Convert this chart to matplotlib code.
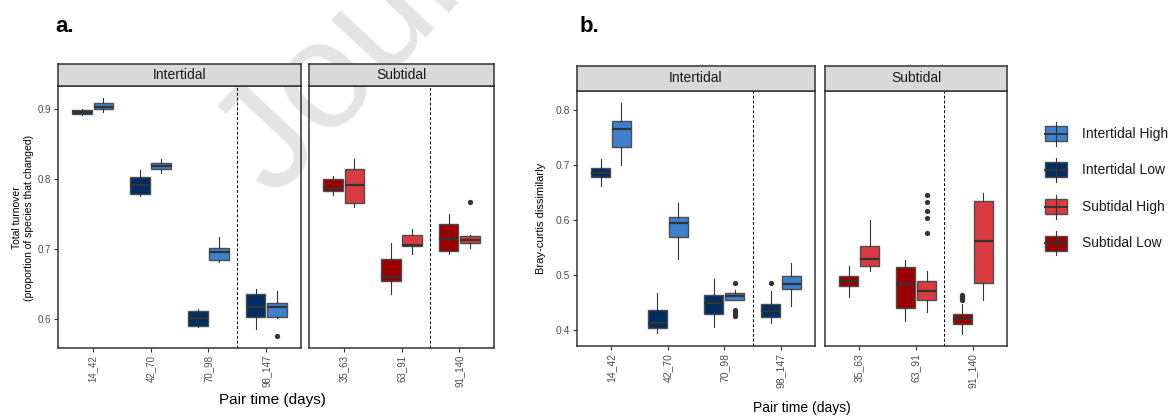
import numpy as np
import matplotlib
matplotlib.use('Agg')
import matplotlib.pyplot as plt
from matplotlib.patches import Rectangle

plt.rcParams['font.family'] = ['Liberation Sans', 'DejaVu Sans']

W, H = 1173, 417  # figure size in pixels

inter_pairs = ['14_42', '42_70', '70_98', '98_147']
sub_pairs = ['35_63', '63_91', '91_140']

groups = ['Intertidal High', 'Intertidal Low', 'Subtidal High', 'Subtidal Low']
colours = ['#3F7FCB', '#002D62', '#D93B43', '#9A0000']

# box stats per pair: (whislo, q1, median, q3, whishi)
# a. total turnover
a_int_low = [(0.892, 0.894, 0.8966, 0.899, 0.9005), (0.7761, 0.7786, 0.7919, 0.8029, 0.8133),
             (0.5895, 0.5909, 0.6023, 0.6119, 0.6147), (0.5857, 0.6033, 0.618, 0.6357, 0.6437)]
a_int_low_out = [[], [], [], []]
a_int_high = [(0.8966, 0.9009, 0.9037, 0.9086, 0.9157), (0.8095, 0.8143, 0.819, 0.8229, 0.8295),
              (0.6814, 0.6847, 0.6957, 0.7019, 0.718), (0.6013, 0.6037, 0.618, 0.6229, 0.6409)]
a_int_high_out = [[], [], [], [0.5757]]
a_sub_low = [(0.7771, 0.7833, 0.7871, 0.8004, 0.8047), (0.6357, 0.6551, 0.6609, 0.6866, 0.709),
             (0.6933, 0.698, 0.7151, 0.7366, 0.75)]
a_sub_low_out = [[], [], []]
a_sub_high = [(0.76, 0.7666, 0.7919, 0.8147, 0.8286), (0.6929, 0.7047, 0.7057, 0.72, 0.7295),
              (0.7023, 0.7086, 0.7133, 0.719, 0.7204)]
a_sub_high_out = [[], [], [0.768]]

# b. bray-curtis
b_int_low = [(0.662, 0.6772, 0.6845, 0.6942, 0.7106), (0.3939, 0.4036, 0.4122, 0.4365, 0.4657),
             (0.4049, 0.4292, 0.4492, 0.4638, 0.4918), (0.4122, 0.4231, 0.434, 0.4468, 0.4699)]
b_int_low_out = [[], [], [], [0.4857]]
b_int_high = [(0.6991, 0.7331, 0.7653, 0.7793, 0.8134), (0.5289, 0.569, 0.5939, 0.6055, 0.631),
              (0.4535, 0.4547, 0.462, 0.4663, 0.4717), (0.4426, 0.473, 0.4827, 0.4973, 0.5204)]
b_int_high_out = [[], [], [0.4857, 0.4353, 0.4322, 0.428, 0.4243], []]
b_sub_low = [(0.4584, 0.479, 0.4881, 0.4973, 0.5161), (0.4158, 0.4389, 0.4821, 0.5137, 0.5271),
             (0.3915, 0.411, 0.42, 0.428, 0.447)]
b_sub_low_out = [[], [], [0.4535, 0.456, 0.4584, 0.4608, 0.4638]]
b_sub_high = [(0.5058, 0.5155, 0.5283, 0.5514, 0.5988), (0.4316, 0.4547, 0.4705, 0.4888, 0.5064),
              (0.4547, 0.4851, 0.5617, 0.6334, 0.648)]
b_sub_high_out = [[], [0.5751, 0.6036, 0.6164, 0.6328, 0.645], []]

a_yticks = [0.6, 0.7, 0.8, 0.9]
b_yticks = [0.4, 0.5, 0.6, 0.7, 0.8]


def px_axes(fig, x0, y0, x1, y1):
    return fig.add_axes([x0 / W, 1 - y1 / H, (x1 - x0) / W, (y1 - y0) / H])


def to_stats(rows, outs):
    return [dict(whislo=r[0], q1=r[1], med=r[2], q3=r[3], whishi=r[4], fliers=o)
            for r, o in zip(rows, outs)]


def draw_boxes(ax, rows, outs, offset, colour):
    pos = np.arange(len(rows)) + offset
    ax.bxp(to_stats(rows, outs), positions=pos, widths=0.34, patch_artist=True,
           showcaps=False, manage_ticks=False,
           boxprops=dict(facecolor=colour, edgecolor='#4D4D4D', linewidth=1.0),
           medianprops=dict(color='#333333', linewidth=1.6),
           whiskerprops=dict(color='#333333', linewidth=0.8),
           flierprops=dict(marker='o', markerfacecolor='#333333', markeredgecolor='none',
                           markersize=3.8))


def panel(fig, box, strip, title, pairs, low, low_out, high, high_out, clow, chigh,
          ylim, yticks, vline, tick_fs):
    ax = px_axes(fig, *box)
    ax.set_facecolor('none')
    sx = px_axes(fig, box[0], strip[0], box[2], strip[1])
    sx.set_facecolor('#D9D9D9')
    sx.set_xticks([]); sx.set_yticks([])
    for s in sx.spines.values():
        s.set_color('#333333'); s.set_linewidth(1.1)
    sx.text(0.5, 0.5, title, ha='center', va='center', fontsize=10, color='#1A1A1A',
            transform=sx.transAxes)

    draw_boxes(ax, low, low_out, -0.185, clow)
    draw_boxes(ax, high, high_out, 0.185, chigh)
    ax.axvline(vline, color='black', linestyle=(0, (3, 2)), linewidth=0.7)
    ax.set_xlim(-0.6, len(pairs) - 0.4)
    ax.set_ylim(*ylim)
    ax.set_xticks(range(len(pairs)))
    ax.set_xticklabels(pairs, rotation=90, fontsize=tick_fs, color='#4D4D4D')
    if yticks:
        ax.set_yticks(yticks)
        ax.set_yticklabels(['%.1f' % t for t in yticks], fontsize=tick_fs, color='#4D4D4D')
    else:
        ax.set_yticks([])
    ax.tick_params(length=3, width=0.8, color='#333333', pad=2)
    for s in ax.spines.values():
        s.set_color('#333333'); s.set_linewidth(1.1)
    return ax


fig = plt.figure(figsize=(W / 100, H / 100), dpi=100)

# journal watermark, behind the panels
fig.text(275 / W, 1 - 200 / H, 'Journal Pre-proof', rotation=47, rotation_mode='anchor',
         fontsize=110, color='#E4E4E4', ha='left', va='baseline', zorder=-1)

# a.
panel(fig, (58, 86, 301, 348), (64, 86), 'Intertidal', inter_pairs, a_int_low, a_int_low_out,
      a_int_high, a_int_high_out, colours[1], colours[0], (0.559, 0.9333), a_yticks, 2.5, 7)
panel(fig, (309, 86, 494, 348), (64, 86), 'Subtidal', sub_pairs, a_sub_low, a_sub_low_out,
      a_sub_high, a_sub_high_out, colours[3], colours[2], (0.559, 0.9333), None, 1.5, 7)
# b.
panel(fig, (577, 91, 815, 346), (66, 91), 'Intertidal', inter_pairs, b_int_low, b_int_low_out,
      b_int_high, b_int_high_out, colours[1], colours[0], (0.370, 0.8347), b_yticks, 2.5, 7.5)
panel(fig, (825, 91, 1007, 346), (66, 91), 'Subtidal', sub_pairs, b_sub_low, b_sub_low_out,
      b_sub_high, b_sub_high_out, colours[3], colours[2], (0.370, 0.8347), None, 1.5, 7.5)

fig.text(23 / W, 1 - 218 / H, 'Total turnover\n(proportion of species that changed)',
         rotation=90, ha='center', va='center', fontsize=7.5, multialignment='center')
fig.text(541 / W, 1 - 218 / H, 'Bray-curtis dissimilarly', rotation=90, ha='center',
         va='center', fontsize=8)
fig.text(272 / W, 1 - 400 / H, 'Pair time (days)', ha='center', va='center', fontsize=11)
fig.text(802 / W, 1 - 408 / H, 'Pair time (days)', ha='center', va='center', fontsize=10)
fig.text(55 / W, 1 - 26 / H, 'a.', ha='left', va='center', fontsize=16, fontweight='bold')
fig.text(580 / W, 1 - 26 / H, 'b.', ha='left', va='center', fontsize=16, fontweight='bold')

# legend drawn by hand in pixel space
lg = px_axes(fig, 1030, 110, 1173, 270)
lg.set_xlim(1030, 1173); lg.set_ylim(270, 110)
lg.axis('off')
key_y = [134, 170, 206.7, 243.3]
for g, c, yc in zip(groups, colours, key_y):
    lg.plot([1056, 1056], [yc - 12, yc + 12], color='#333333', lw=0.8)
    lg.add_patch(Rectangle((1045, yc - 7.5), 22, 15, facecolor=c, edgecolor='#4D4D4D', lw=1.0))
    lg.plot([1045, 1067], [yc, yc], color='#333333', lw=1.4)
    lg.text(1082, yc, g, ha='left', va='center', fontsize=10, color='#1A1A1A')

fig.savefig('out.png', dpi=100)
